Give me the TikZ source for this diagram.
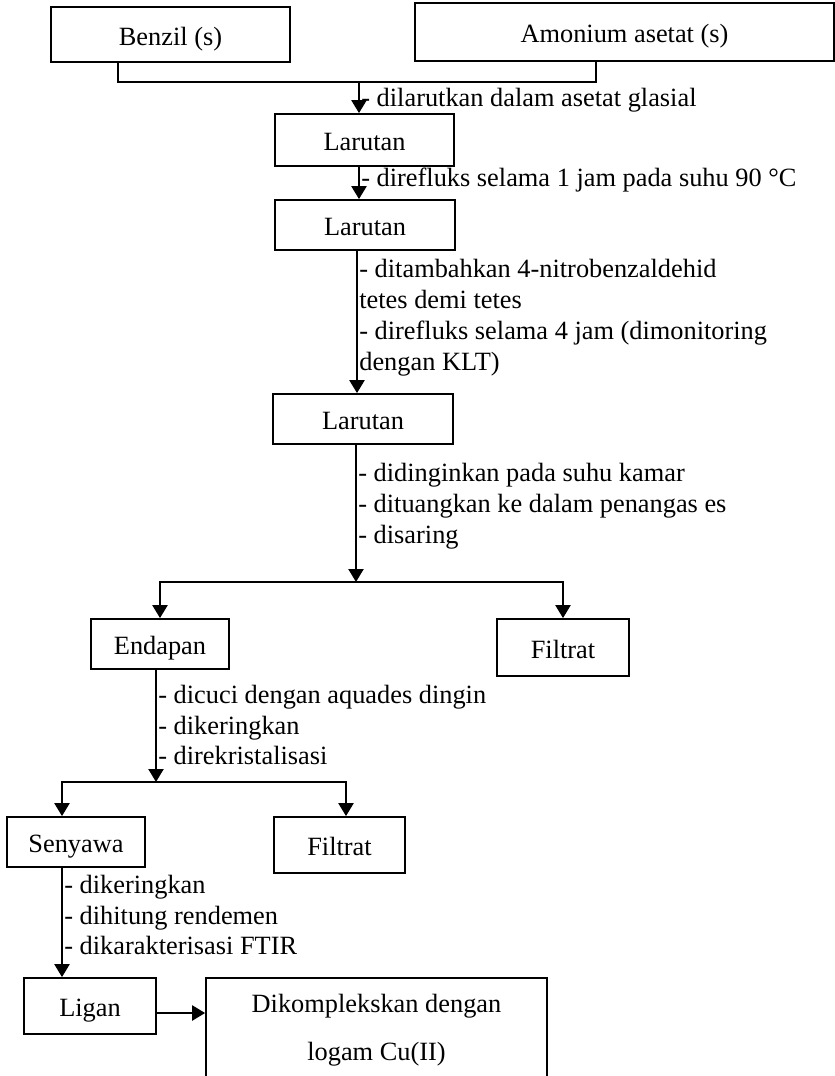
\documentclass[tikz,border=0pt]{standalone}
\usepackage{fontspec}
\setmainfont{Liberation Serif}
\usetikzlibrary{arrows.meta}

\begin{document}
\begin{tikzpicture}[x=0.02cm,y=-0.02cm,
    every node/.style={font=\fontsize{15}{17.6}\selectfont},
    kotak/.style={draw,line width=1pt,inner sep=0pt,text height=13pt,text depth=1pt},
    panah/.style={line width=1.4pt,-{Triangle[length=7.4pt,width=8.5pt]}},
    garis/.style={line width=1.2pt},
    ket/.style={anchor=west,inner sep=0pt,align=left}]
    \clip (0,0) rectangle (835,1076);

    \node[kotak,minimum width=4.78cm,minimum height=1.10cm] (benzil) at (170.5,34.5) {Benzil (s)};
    \node[kotak,minimum width=8.38cm,minimum height=1.16cm] (amonium) at (624.5,32) {Amonium asetat (s)};
    \node[kotak,minimum width=3.58cm,minimum height=1.04cm] (lar1) at (364.5,140) {Larutan};
    \node[kotak,minimum width=3.60cm,minimum height=1.00cm] (lar2) at (365,225) {Larutan};
    \node[kotak,minimum width=3.60cm,minimum height=1.00cm] (lar3) at (363,419) {Larutan};
    \node[kotak,minimum width=2.76cm,minimum height=1.00cm] (endapan) at (160,644) {Endapan};
    \node[kotak,minimum width=2.64cm,minimum height=1.14cm] (filtrat1) at (563,647.5) {Filtrat};
    \node[kotak,minimum width=2.76cm,minimum height=1.00cm] (senyawa) at (76,842) {Senyawa};
    \node[kotak,minimum width=2.62cm,minimum height=1.12cm] (filtrat2) at (339.5,845) {Filtrat};
    \node[kotak,minimum width=2.64cm,minimum height=1.12cm] (ligan) at (90,1006) {Ligan};
    \node[draw,line width=1pt,inner sep=0pt,align=center,minimum width=6.82cm,minimum height=2.08cm,
        font=\fontsize{15}{27.2}\selectfont] (kompleks) at (376.5,1030) {Dikomplekskan dengan\\logam Cu(II)};

    \node[ket] (k1) at (361,100) {- dilarutkan dalam asetat glasial};
    \node[ket] (k2) at (361,180) {- direfluks selama 1 jam pada suhu 90 °C};
    \node[ket] (k3) at (359,318) {- ditambahkan 4-nitrobenzaldehid\\tetes demi tetes\\- direfluks selama 4 jam (dimonitoring\\dengan KLT)};
    \node[ket] (k4) at (358,506) {- didinginkan pada suhu kamar\\- dituangkan ke dalam penangas es\\- disaring};
    \node[ket] (k5) at (158,725) {- dicuci dengan aquades dingin\\- dikeringkan\\- direkristalisasi};
    \node[ket] (k6) at (64,915) {- dikeringkan\\- dihitung rendemen\\- dikarakterisasi FTIR};

    \coordinate (jb) at (118,82);
    \coordinate (ja) at (596,82);
    \coordinate (j1) at (359,82);
    \coordinate (j2) at (357,0);
    \coordinate (s1) at (356,582);
    \coordinate (s2) at (156,782);
    \coordinate (s2l) at (62,782);
    \coordinate (s2r) at (346,782);
    \coordinate (lk) at (180,1013);

    \draw[garis] (benzil.south -| jb) -- (jb) -- (ja) -- (amonium.south -| ja);
    \draw[panah] (j1) -- (lar1.north -| j1);
    \draw[panah] (lar1.south -| j1) -- (lar2.north -| j1);
    \draw[panah] (lar2.south -| j2) -- (lar3.north -| j2);
    \draw[panah] (lar3.south -| s1) -- (s1);
    \draw[panah] (s1) -| (endapan.north);
    \draw[panah] (s1) -| (filtrat1.north);
    \draw[panah] (endapan.south -| s2) -- (s2);
    \draw[panah] (s2) -| (senyawa.north -| s2l);
    \draw[panah] (s2) -| (filtrat2.north -| s2r);
    \draw[panah] (senyawa.south -| s2l) -- (ligan.north -| s2l);
    \draw[panah] (ligan.east |- lk) -- (kompleks.west |- lk);
\end{tikzpicture}
\end{document}
